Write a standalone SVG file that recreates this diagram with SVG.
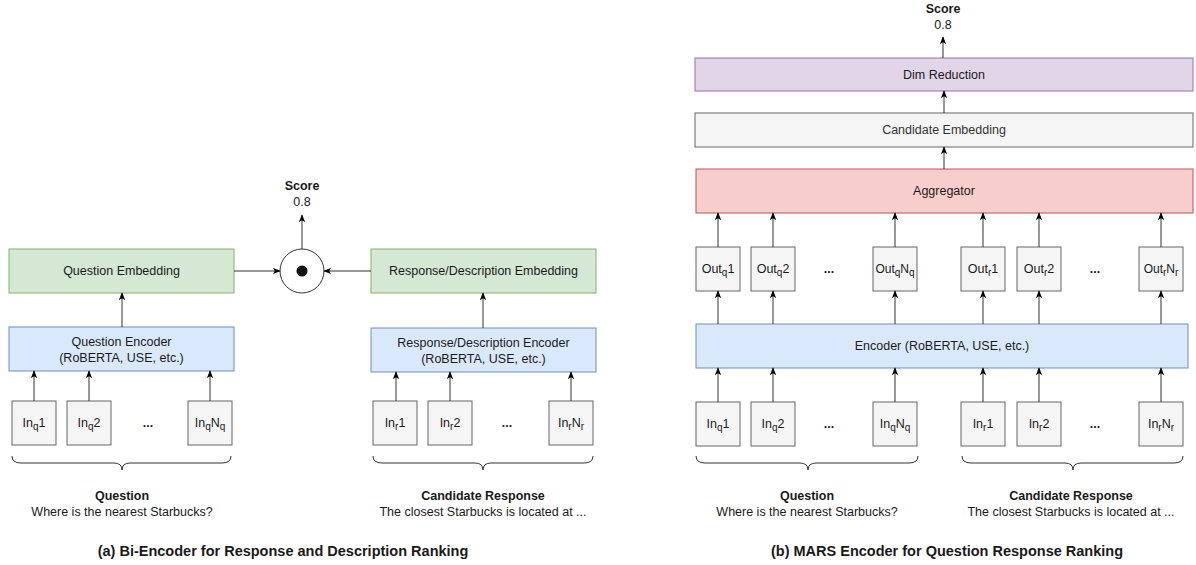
<svg xmlns="http://www.w3.org/2000/svg" width="1196" height="565" viewBox="0 0 1196 565">
<defs>
<marker id="arr" viewBox="0 0 10 8" refX="9" refY="4" markerWidth="8" markerHeight="7" markerUnits="userSpaceOnUse" orient="auto">
<path d="M0,0 L10,4 L0,8 L2.5,4 z" fill="#000"/>
</marker>
<style>
text{font-family:"Liberation Sans",Arial,sans-serif;font-size:12.5px;fill:#1a1a1a;text-anchor:middle}
.b{font-weight:bold}
.cap{font-weight:bold;font-size:14.5px}
.green{fill:#d5e8d4;stroke:#82b366;stroke-width:1}
.blue{fill:#dae8fc;stroke:#6c8ebf;stroke-width:1}
.purple{fill:#e1d5e7;stroke:#9673a6;stroke-width:1}
.red{fill:#f8cecc;stroke:#b85450;stroke-width:1}
.gray{fill:#f5f5f5;stroke:#666666;stroke-width:1}
.conn line{stroke:#333;stroke-width:1;marker-end:url(#arr)}
.brace{fill:none;stroke:#333;stroke-width:1}
.sub{font-size:10px}
.dim{fill:#333}
</style>
</defs>
<rect width="1196" height="565" fill="#fff"/>

<!-- ===== Left panel (a) ===== -->
<g id="score-a"><text x="302" y="190" class="b">Score</text><text x="302" y="206">0.8</text></g>
<g id="dot-product"><circle cx="302" cy="271" r="22" fill="#fff" stroke="#333"/><circle cx="302" cy="271" r="5.5" fill="#111"/></g>
<g id="q-embedding"><rect x="9" y="249" width="225" height="44" class="green"/><text x="121.5" y="275">Question Embedding</text></g>
<g id="r-embedding"><rect x="371" y="249" width="225" height="44" class="green"/><text x="483.5" y="275">Response/Description Embedding</text></g>
<g id="q-encoder"><rect x="9" y="327" width="225" height="44" class="blue"/><text x="121.5" y="346">Question Encoder</text><text x="121.5" y="362">(RoBERTA, USE, etc.)</text></g>
<g id="r-encoder"><rect x="371" y="328" width="225" height="44" class="blue"/><text x="483.5" y="347">Response/Description Encoder</text><text x="483.5" y="363">(RoBERTA, USE, etc.)</text></g>

<g id="a-inq1"><rect x="12" y="401" width="44" height="44" class="gray"/><text x="34" y="427">In<tspan class="sub" dy="3">q</tspan><tspan dy="-3">1</tspan></text></g>
<g id="a-inq2"><rect x="67" y="401" width="44" height="44" class="gray"/><text x="89" y="427">In<tspan class="sub" dy="3">q</tspan><tspan dy="-3">2</tspan></text></g>
<g id="a-qdots"><text x="148" y="427" class="b">...</text></g>
<g id="a-inqN"><rect x="188" y="401" width="44" height="44" class="gray"/><text x="210" y="427">In<tspan class="sub" dy="3">q</tspan><tspan dy="-3">N</tspan><tspan class="sub" dy="3">q</tspan></text></g>

<g id="a-inr1"><rect x="373" y="401" width="44" height="44" class="gray"/><text x="395" y="427">In<tspan class="sub" dy="3">r</tspan><tspan dy="-3">1</tspan></text></g>
<g id="a-inr2"><rect x="428" y="401" width="44" height="44" class="gray"/><text x="450" y="427">In<tspan class="sub" dy="3">r</tspan><tspan dy="-3">2</tspan></text></g>
<g id="a-rdots"><text x="507" y="427" class="b">...</text></g>
<g id="a-inrN"><rect x="549" y="401" width="44" height="44" class="gray"/><text x="571" y="427">In<tspan class="sub" dy="3">r</tspan><tspan dy="-3">N</tspan><tspan class="sub" dy="3">r</tspan></text></g>

<g id="a-braces">
<path class="brace" d="M12,456 Q12,463 21,463 L114,463 Q122,463 122,470 Q122,463 130,463 L222,463 Q231,463 231,456"/>
<path class="brace" d="M373,456 Q373,463 382,463 L475,463 Q483,463 483,470 Q483,463 491,463 L584,463 Q593,463 593,456"/>
</g>
<g id="a-question-label"><text x="122" y="500" class="b">Question</text><text x="122" y="516">Where is the nearest Starbucks?</text></g>
<g id="a-response-label"><text x="483" y="500" class="b">Candidate Response</text><text x="483" y="516">The closest Starbucks is located at ...</text></g>
<g id="caption-a"><text x="283" y="556" class="cap">(a) Bi-Encoder for Response and Description Ranking</text></g>

<!-- ===== Right panel (b) ===== -->
<g id="score-b"><text x="943" y="13" class="b">Score</text><text x="943" y="29">0.8</text></g>
<g id="dim-reduction"><rect x="695" y="58" width="498" height="33" class="purple"/><text x="944" y="79">Dim Reduction</text></g>
<g id="cand-embedding"><rect x="695" y="113" width="498" height="34" class="gray"/><text x="944" y="134" class="dim">Candidate Embedding</text></g>
<g id="aggregator"><rect x="696" y="169" width="497" height="44" class="red"/><text x="944" y="195">Aggregator</text></g>

<g id="b-outq1"><rect x="696" y="247" width="44" height="44" class="gray"/><text x="718" y="273">Out<tspan class="sub" dy="3">q</tspan><tspan dy="-3">1</tspan></text></g>
<g id="b-outq2"><rect x="751" y="247" width="44" height="44" class="gray"/><text x="773" y="273">Out<tspan class="sub" dy="3">q</tspan><tspan dy="-3">2</tspan></text></g>
<g id="b-outqdots"><text x="829" y="273" class="b">...</text></g>
<g id="b-outqN"><rect x="873" y="247" width="44" height="44" class="gray"/><text x="895" y="273" style="font-size:12px">Out<tspan class="sub" dy="3">q</tspan><tspan dy="-3">N</tspan><tspan class="sub" dy="3">q</tspan></text></g>
<g id="b-outr1"><rect x="961" y="247" width="44" height="44" class="gray"/><text x="983" y="273">Out<tspan class="sub" dy="3">r</tspan><tspan dy="-3">1</tspan></text></g>
<g id="b-outr2"><rect x="1017" y="247" width="44" height="44" class="gray"/><text x="1039" y="273">Out<tspan class="sub" dy="3">r</tspan><tspan dy="-3">2</tspan></text></g>
<g id="b-outrdots"><text x="1095" y="273" class="b">...</text></g>
<g id="b-outrN"><rect x="1139" y="247" width="44" height="44" class="gray"/><text x="1161" y="273" style="font-size:12px">Out<tspan class="sub" dy="3">r</tspan><tspan dy="-3">N</tspan><tspan class="sub" dy="3">r</tspan></text></g>

<g id="b-encoder"><rect x="696" y="324" width="492" height="44" class="blue"/><text x="942" y="350">Encoder (RoBERTA, USE, etc.)</text></g>

<g id="b-inq1"><rect x="696" y="402" width="44" height="44" class="gray"/><text x="718" y="428">In<tspan class="sub" dy="3">q</tspan><tspan dy="-3">1</tspan></text></g>
<g id="b-inq2"><rect x="751" y="402" width="44" height="44" class="gray"/><text x="773" y="428">In<tspan class="sub" dy="3">q</tspan><tspan dy="-3">2</tspan></text></g>
<g id="b-inqdots"><text x="829" y="428" class="b">...</text></g>
<g id="b-inqN"><rect x="873" y="402" width="44" height="44" class="gray"/><text x="895" y="428">In<tspan class="sub" dy="3">q</tspan><tspan dy="-3">N</tspan><tspan class="sub" dy="3">q</tspan></text></g>
<g id="b-inr1"><rect x="961" y="402" width="44" height="44" class="gray"/><text x="983" y="428">In<tspan class="sub" dy="3">r</tspan><tspan dy="-3">1</tspan></text></g>
<g id="b-inr2"><rect x="1017" y="402" width="44" height="44" class="gray"/><text x="1039" y="428">In<tspan class="sub" dy="3">r</tspan><tspan dy="-3">2</tspan></text></g>
<g id="b-inrdots"><text x="1095" y="428" class="b">...</text></g>
<g id="b-inrN"><rect x="1139" y="402" width="44" height="44" class="gray"/><text x="1161" y="428">In<tspan class="sub" dy="3">r</tspan><tspan dy="-3">N</tspan><tspan class="sub" dy="3">r</tspan></text></g>

<g id="b-braces">
<path class="brace" d="M696,456 Q696,463 705,463 L800,463 Q808,463 808,470 Q808,463 816,463 L909,463 Q918,463 918,456"/>
<path class="brace" d="M962,456 Q962,463 971,463 L1065,463 Q1073,463 1073,470 Q1073,463 1081,463 L1174,463 Q1183,463 1183,456"/>
</g>
<g id="b-question-label"><text x="807" y="500" class="b">Question</text><text x="807" y="516">Where is the nearest Starbucks?</text></g>
<g id="b-response-label"><text x="1071" y="500" class="b">Candidate Response</text><text x="1071" y="516">The closest Starbucks is located at ...</text></g>
<g id="caption-b"><text x="947" y="556" class="cap">(b) MARS Encoder for Question Response Ranking</text></g>

<!-- ===== Connectors ===== -->
<g id="connectors" class="conn">
<line x1="302" y1="249" x2="302" y2="215"/>
<line x1="234" y1="271" x2="280" y2="271"/>
<line x1="371" y1="271" x2="324" y2="271"/>
<line x1="122" y1="327" x2="122" y2="293"/>
<line x1="483" y1="328" x2="483" y2="293"/>
<line x1="34" y1="401" x2="34" y2="371"/>
<line x1="89" y1="401" x2="89" y2="371"/>
<line x1="210" y1="401" x2="210" y2="371"/>
<line x1="396" y1="401" x2="396" y2="372"/>
<line x1="450" y1="401" x2="450" y2="372"/>
<line x1="571" y1="401" x2="571" y2="372"/>

<line x1="943" y1="58" x2="943" y2="37"/>
<line x1="944" y1="113" x2="944" y2="91"/>
<line x1="944" y1="169" x2="944" y2="147"/>
<line x1="718" y1="247" x2="718" y2="213"/>
<line x1="773" y1="247" x2="773" y2="213"/>
<line x1="895" y1="247" x2="895" y2="213"/>
<line x1="983" y1="247" x2="983" y2="213"/>
<line x1="1039" y1="247" x2="1039" y2="213"/>
<line x1="1161" y1="247" x2="1161" y2="213"/>
<line x1="718" y1="324" x2="718" y2="291"/>
<line x1="773" y1="324" x2="773" y2="291"/>
<line x1="895" y1="324" x2="895" y2="291"/>
<line x1="983" y1="324" x2="983" y2="291"/>
<line x1="1039" y1="324" x2="1039" y2="291"/>
<line x1="1161" y1="324" x2="1161" y2="291"/>
<line x1="718" y1="402" x2="718" y2="368"/>
<line x1="773" y1="402" x2="773" y2="368"/>
<line x1="895" y1="402" x2="895" y2="368"/>
<line x1="983" y1="402" x2="983" y2="368"/>
<line x1="1039" y1="402" x2="1039" y2="368"/>
<line x1="1161" y1="402" x2="1161" y2="368"/>
</g>
</svg>
